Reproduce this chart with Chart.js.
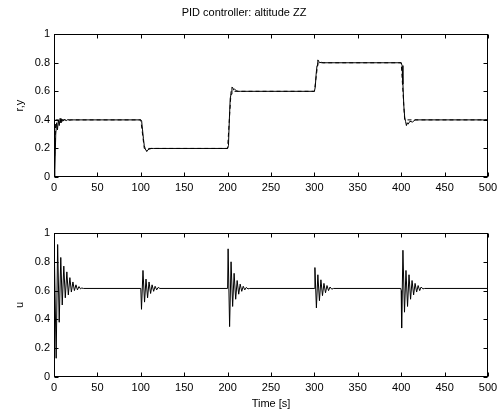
<!DOCTYPE html>
<html>
<head>
<meta charset="utf-8">
<script src="https://cdn.jsdelivr.net/npm/chart.js@4.4.1/dist/chart.umd.min.js"></script>
<style>
  html, body { margin: 0; padding: 0; background: #fff; }
  #wrap { position: relative; width: 502px; height: 412px; }
  .box { position: absolute; left: 0; width: 502px; }
</style>
</head>
<body>
<div id="wrap">
  <div class="box" style="top:0;height:200px"><canvas id="topChart"></canvas></div>
  <div class="box" style="top:200px;height:212px"><canvas id="bottomChart"></canvas></div>
</div>
<script>
// reference r (rate limited steps)
const refTime  = [0, 2, 100, 104, 200, 204, 300, 304, 400, 404, 500];
const refValue = [0, 0.4, 0.4, 0.2, 0.2, 0.6, 0.6, 0.8, 0.8, 0.4, 0.4];

// altitude y
const yTime  = [0, 1, 2, 3, 4, 5, 6, 7, 8, 9, 10, 12, 14, 16, 18, 20, 25,
                100, 101, 102, 103, 104, 105, 106, 107, 108, 110, 112, 115,
                200, 201, 202, 203, 204, 205, 206, 207, 208, 210, 212, 215,
                300, 301, 302, 303, 304, 305, 306, 308, 310,
                400, 401, 402, 403, 404, 405, 406, 407, 408, 410, 413, 416, 420, 500];
const yValue = [0, 0.05, 0.3, 0.38, 0.33, 0.4, 0.36, 0.41, 0.38, 0.405, 0.39, 0.403, 0.395, 0.402, 0.398, 0.4, 0.4,
                0.4, 0.39, 0.33, 0.27, 0.22, 0.2, 0.185, 0.18, 0.19, 0.195, 0.2, 0.2,
                0.2, 0.22, 0.4, 0.55, 0.58, 0.63, 0.625, 0.61, 0.615, 0.605, 0.6, 0.6,
                0.6, 0.63, 0.72, 0.78, 0.82, 0.81, 0.8, 0.803, 0.8,
                0.8, 0.78, 0.65, 0.5, 0.42, 0.39, 0.36, 0.38, 0.37, 0.39, 0.385, 0.4, 0.4, 0.4];

// control signal u
const uTime  = [0, 1, 2.5, 4.2, 6, 7.8, 9.5, 11.3, 13, 14.8, 16.5, 18.3, 20, 21.8, 23.5, 25.3, 27, 28.8, 30.5, 32, 34,
                100, 100.8, 102.5, 104.3, 106, 107.8, 109.5, 111.3, 113, 114.8, 116.5, 118.3, 120, 122,
                200, 200.6, 202.3, 204, 205.8, 207.5, 209.3, 211, 212.8, 214.5, 216.3, 218, 219.8, 221.5, 223.5, 225.5,
                300, 300.6, 302.3, 304, 305.8, 307.5, 309.3, 311, 312.8, 314.5, 316.3, 318, 320, 322,
                399.5, 400, 400.5, 402, 403.8, 405.5, 407.3, 409, 410.8, 412.5, 414.3, 416, 417.8, 419.5, 421.3, 423, 425, 427, 500];
const uValue = [1.0, 1.0, 0.13, 0.92, 0.38, 0.83, 0.5, 0.77, 0.55, 0.73, 0.57, 0.69, 0.59, 0.66, 0.6, 0.64, 0.605, 0.628, 0.612, 0.618, 0.615,
                0.615, 0.47, 0.74, 0.52, 0.68, 0.55, 0.66, 0.58, 0.64, 0.595, 0.63, 0.605, 0.622, 0.615,
                0.615, 0.89, 0.35, 0.8, 0.49, 0.72, 0.54, 0.67, 0.575, 0.645, 0.595, 0.63, 0.605, 0.622, 0.612, 0.615,
                0.615, 0.76, 0.48, 0.71, 0.53, 0.675, 0.565, 0.65, 0.585, 0.635, 0.6, 0.625, 0.61, 0.615,
                0.615, 0.6, 0.34, 0.88, 0.45, 0.74, 0.49, 0.71, 0.54, 0.67, 0.57, 0.65, 0.59, 0.635, 0.6, 0.625, 0.612, 0.615, 0.615];

const xTicks = [0, 50, 100, 150, 200, 250, 300, 350, 400, 450, 500];
const yTicks = [0, 0.2, 0.4, 0.6, 0.8, 1];

const FONT = "'Liberation Sans', Arial, sans-serif";
const pts = (t, v) => t.map((x, i) => ({ x: x, y: v[i] }));

// matlab style box with inward ticks on all sides
const matlabBox = {
  id: "matlabBox",
  afterDraw(chart) {
    const { ctx, chartArea: a, scales } = chart;
    const L = Math.round(a.left) + 0.5, R = Math.round(a.right) - 0.5;
    const T = Math.round(a.top) + 0.5, B = Math.round(a.bottom) - 0.5;
    ctx.save();
    ctx.strokeStyle = "#000";
    ctx.lineWidth = 1;
    ctx.beginPath();
    xTicks.forEach(v => {
      const px = Math.round(scales.x.getPixelForValue(v)) + 0.5;
      ctx.moveTo(px, B); ctx.lineTo(px, B - 4);
      ctx.moveTo(px, T); ctx.lineTo(px, T + 4);
    });
    yTicks.forEach(v => {
      const py = Math.round(scales.y.getPixelForValue(v)) + 0.5;
      ctx.moveTo(L, py); ctx.lineTo(L + 4, py);
      ctx.moveTo(R, py); ctx.lineTo(R - 4, py);
    });
    ctx.stroke();
    ctx.strokeRect(L, T, R - L, B - T);
    ctx.restore();
  }
};

function makeChart(id, datasets, opts) {
  return new Chart(document.getElementById(id), {
    type: "line",
    data: { datasets: datasets },
    options: {
      responsive: true,
      maintainAspectRatio: false,
      animation: false,
      layout: { padding: { top: opts.padTop, right: 14, bottom: 0, left: 0 } },
      plugins: {
        legend: { display: false },
        tooltip: { enabled: false },
        title: opts.title ? {
          display: true, text: opts.title, color: "#000",
          font: { family: FONT, size: 11, weight: "normal" },
          padding: { top: 6, bottom: 15 }
        } : { display: false }
      },
      scales: {
        x: {
          type: "linear", min: 0, max: 500,
          afterBuildTicks: s => { s.ticks = xTicks.map(v => ({ value: v })); },
          afterFit: s => { s.height = opts.xHeight; },
          grid: { display: false, drawTicks: false, tickLength: 0 },
          border: { display: false },
          ticks: { color: "#000", font: { family: FONT, size: 11 }, padding: 4, maxRotation: 0,
                   callback: v => String(v) },
          title: opts.xTitle ? {
            display: true, text: opts.xTitle, color: "#000",
            font: { family: FONT, size: 11 }, padding: { top: 0, bottom: 1.5 }
          } : { display: false }
        },
        y: {
          min: 0, max: 1,
          afterBuildTicks: s => { s.ticks = yTicks.map(v => ({ value: v })); },
          afterFit: s => { s.width = 54; },
          grid: { display: false, drawTicks: false, tickLength: 0 },
          border: { display: false },
          ticks: { color: "#000", font: { family: FONT, size: 11 }, padding: 4,
                   callback: v => String(v) },
          title: {
            display: true, text: opts.yTitle, color: "#000",
            font: { family: FONT, size: 11 }, padding: { top: 13, bottom: 0 }
          }
        }
      }
    },
    plugins: [matlabBox]
  });
}

makeChart("topChart", [
  { data: pts(yTime, yValue), borderColor: "#000", borderWidth: 1, pointRadius: 0, tension: 0 },
  { data: pts(refTime, refValue), borderColor: "#000", borderWidth: 1, borderDash: [4, 3], pointRadius: 0, tension: 0 }
], { title: "PID controller: altitude ZZ", yTitle: "r,y", xHeight: 23, padTop: 0 });

makeChart("bottomChart", [
  { data: pts(uTime, uValue), borderColor: "#000", borderWidth: 1, pointRadius: 0, tension: 0 }
], { yTitle: "u", xTitle: "Time [s]", xHeight: 35, padTop: 33 });
</script>
</body>
</html>
